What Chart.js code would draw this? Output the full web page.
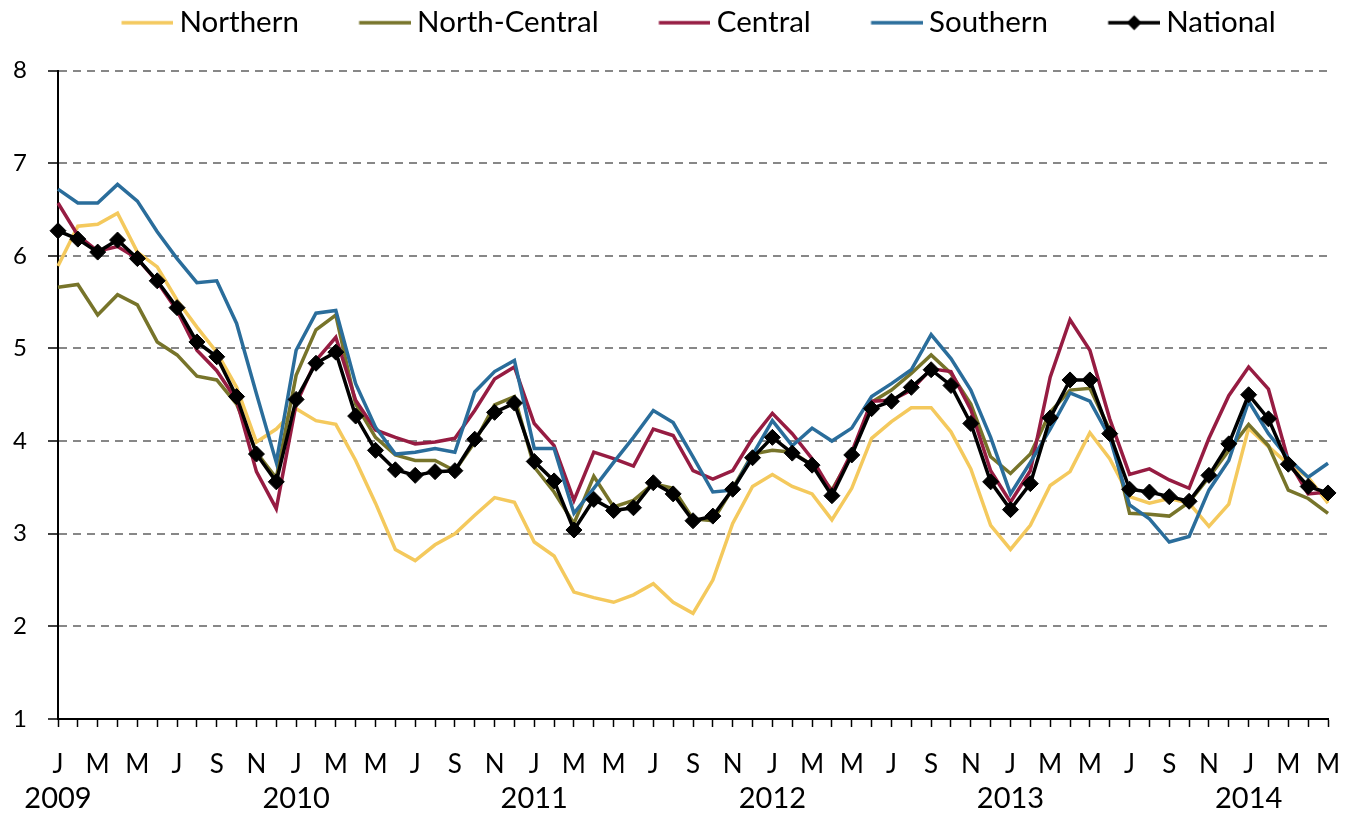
<!DOCTYPE html>
<html>
<head>
<meta charset="utf-8">
<script src="https://cdn.jsdelivr.net/npm/chart.js@4"></script>
<style>
html,body{margin:0;padding:0;background:#fff;}
#wrap{width:1348px;height:815px;position:relative;}
</style>
</head>
<body>
<div id="wrap"><canvas id="c" width="1348" height="815"></canvas></div>
<script>
const monthLetters = ['J','F','M','A','M','J','J','A','S','O','N','D'];
const startYear = 2009;
const monthCount = 65;
const shownMonths = [0,2,4,6,8,10];
const yTicks = [1,2,3,4,5,6,7,8];

const northern = [5.89,6.32,6.34,6.46,6.04,5.88,5.52,5.23,4.96,4.58,3.99,4.13,
  4.35,4.22,4.18,3.79,3.33,2.83,2.71,2.88,3.00,3.20,3.39,3.34,
  2.91,2.76,2.37,2.31,2.26,2.34,2.46,2.26,2.14,2.50,3.11,3.51,
  3.64,3.51,3.43,3.15,3.49,4.03,4.21,4.36,4.36,4.10,3.70,3.09,
  2.83,3.09,3.52,3.67,4.09,3.81,3.40,3.33,3.38,3.33,3.08,3.32,
  4.14,3.94,3.75,3.61,3.33];
const northCentral = [5.66,5.69,5.36,5.58,5.47,5.07,4.93,4.70,4.66,4.40,3.88,3.60,
  4.71,5.20,5.36,4.40,4.04,3.85,3.79,3.79,3.68,3.99,4.39,4.48,
  3.72,3.45,3.11,3.62,3.29,3.36,3.54,3.49,3.16,3.14,3.49,3.86,
  3.90,3.88,3.74,3.47,3.85,4.42,4.55,4.73,4.93,4.73,4.40,3.83,
  3.65,3.86,4.31,4.55,4.57,4.12,3.22,3.21,3.19,3.34,3.61,3.90,
  4.18,3.95,3.47,3.38,3.22];
const central = [6.57,6.22,6.05,6.10,5.97,5.72,5.41,4.98,4.76,4.44,3.67,3.27,
  4.40,4.87,5.12,4.44,4.12,4.04,3.97,3.99,4.03,4.33,4.67,4.80,
  4.19,3.95,3.36,3.88,3.81,3.73,4.13,4.06,3.68,3.59,3.68,4.03,
  4.30,4.08,3.81,3.45,3.88,4.43,4.44,4.55,4.78,4.75,4.34,3.68,
  3.34,3.68,4.69,5.31,4.98,4.24,3.64,3.70,3.58,3.49,4.03,4.49,
  4.80,4.56,3.79,3.43,3.45];
const southern = [6.72,6.57,6.57,6.77,6.59,6.26,5.97,5.71,5.73,5.27,4.51,3.77,
  4.98,5.38,5.41,4.62,4.15,3.86,3.88,3.92,3.88,4.53,4.75,4.87,
  3.92,3.92,3.22,3.49,3.77,4.04,4.33,4.20,3.83,3.45,3.47,3.85,
  4.22,3.95,4.14,4.00,4.14,4.48,4.62,4.77,5.15,4.89,4.55,4.04,
  3.43,3.77,4.13,4.52,4.43,4.04,3.31,3.16,2.91,2.97,3.47,3.79,
  4.43,4.08,3.81,3.61,3.76];
const national = [6.27,6.18,6.04,6.17,5.97,5.73,5.44,5.07,4.91,4.48,3.86,3.56,
  4.45,4.84,4.96,4.27,3.90,3.69,3.63,3.67,3.68,4.02,4.31,4.41,
  3.78,3.57,3.04,3.37,3.25,3.28,3.55,3.43,3.14,3.19,3.48,3.82,
  4.04,3.87,3.74,3.41,3.85,4.35,4.43,4.58,4.77,4.60,4.19,3.56,
  3.26,3.54,4.25,4.66,4.66,4.08,3.48,3.45,3.40,3.35,3.63,3.97,
  4.50,4.24,3.75,3.51,3.44];

const seriesNames = ['Northern','North-Central','Central','Southern','National'];
const seriesColors = ['#F4C95D','#77742A','#961C42','#2A6D9B','#000000'];

const monthLabels = [];
const yearLabels = [];
for (let i = 0; i < monthCount; i++) {
  const m = i % 12;
  monthLabels.push(shownMonths.includes(m) ? monthLetters[m] : '');
  yearLabels.push(m === 0 ? String(startYear + Math.floor(i / 12)) : '');
}

const FONT = 'Lato';
const LEG_FONT = 29.5;
const LEG_BOX = 95.5;
const LEG_SHIFT = 8.5;

function legendImage(color, marker) {
  const W = 112, H = 20;
  const c = document.createElement('canvas');
  c.width = W; c.height = H;
  const g = c.getContext('2d');
  const half = LEG_FONT / 2;
  const left = LEG_BOX / 2 - W / 2;
  const x1 = (LEG_BOX + half - 6) - left;
  const x0 = x1 - 52;
  g.strokeStyle = color; g.lineWidth = 3.5; g.lineCap = 'butt';
  g.beginPath(); g.moveTo(x0, H / 2); g.lineTo(x1, H / 2); g.stroke();
  if (marker) {
    const cx = (x0 + x1) / 2, cy = H / 2, r = 7.5;
    g.fillStyle = color;
    g.beginPath(); g.moveTo(cx, cy - r); g.lineTo(cx + r, cy); g.lineTo(cx, cy + r); g.lineTo(cx - r, cy); g.closePath(); g.fill();
  }
  return c;
}

const seriesData = [northern, northCentral, central, southern, national];
const datasets = seriesData.map((d, i) => {
  const isNat = i === 4;
  return {
    label: seriesNames[i],
    data: d,
    borderColor: seriesColors[i],
    backgroundColor: seriesColors[i],
    borderWidth: 3.5,
    tension: 0,
    fill: false,
    order: isNat ? 0 : 5 - i,
    pointRadius: isNat ? 8 : 0,
    pointHoverRadius: isNat ? 8 : 0,
    pointStyle: isNat ? 'rectRot' : 'circle',
    pointBackgroundColor: seriesColors[i],
    pointBorderColor: seriesColors[i],
    pointBorderWidth: 1,
    legendImg: legendImage(seriesColors[i], isNat)
  };
});

const legendShift = {
  id: 'legendShift',
  afterLayout(chart) {
    if (chart.legend) { chart.legend.left += LEG_SHIFT; chart.legend.right += LEG_SHIFT; }
  }
};

new Chart(document.getElementById('c'), {
  type: 'line',
  data: { labels: monthLabels, datasets },
  plugins: [legendShift],
  options: {
    responsive: false,
    animation: false,
    events: [],
    layout: { autoPadding: false, padding: { left: 0, right: 20, top: 0, bottom: 0 } },
    plugins: {
      tooltip: { enabled: false },
      title: { display: true, text: '', weight: 500, font: { size: 10, lineHeight: 1 }, padding: { top: 13, bottom: 0 } },
      legend: {
        display: true,
        position: 'top',
        fullSize: true,
        labels: {
          usePointStyle: true,
          pointStyleWidth: LEG_BOX,
          padding: 8,
          color: '#000',
          font: { family: FONT, size: LEG_FONT },
          generateLabels(chart) {
            return chart.data.datasets.map((ds, i) => ({
              text: ds.label,
              pointStyle: ds.legendImg,
              fillStyle: ds.borderColor,
              strokeStyle: ds.borderColor,
              lineWidth: 0,
              hidden: false,
              datasetIndex: i,
              fontColor: '#000'
            }));
          }
        }
      }
    },
    scales: {
      x: {
        type: 'category',
        labels: monthLabels,
        position: 'bottom',
        offset: false,
        afterFit(s) { s.height = 58; s.paddingLeft = 0; s.paddingRight = 0; },
        grid: { display: true, drawOnChartArea: false, drawTicks: true, tickLength: 8, tickColor: '#000', tickWidth: 1.5 },
        border: { display: true, color: '#000', width: 2 },
        ticks: { autoSkip: false, maxRotation: 0, minRotation: 0, padding: 22, color: '#000', font: { family: FONT, size: 26 } }
      },
      x2: {
        type: 'category',
        labels: yearLabels,
        position: 'bottom',
        offset: false,
        afterFit(s) { s.height = 38; s.paddingLeft = 0; s.paddingRight = 0; },
        grid: { display: false, drawTicks: false },
        border: { display: false },
        ticks: { autoSkip: false, maxRotation: 0, minRotation: 0, padding: 4, color: '#000', font: { family: FONT, size: 29 } }
      },
      y: {
        min: 1, max: 8,
        afterFit(s) { s.width = 58; },
        afterBuildTicks(s) { s.ticks = yTicks.map(v => ({ value: v })); },
        grid: { color: '#878787', lineWidth: 2, tickColor: '#000', tickWidth: 1.5, tickLength: 10, tickBorderDash: [] },
        border: { display: true, color: '#000', width: 2, dash: [8, 6] },
        ticks: { padding: 21, color: '#000', font: { family: FONT, size: 24 } }
      }
    }
  }
});
</script>
</body>
</html>
